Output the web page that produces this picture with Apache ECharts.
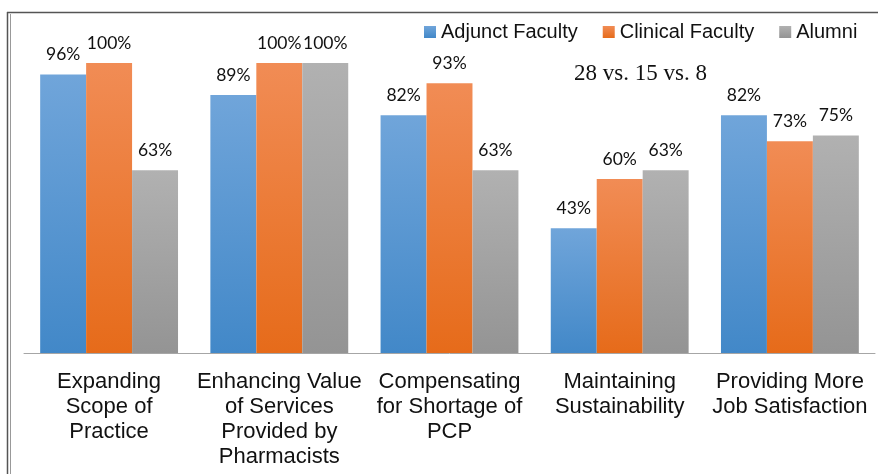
<!DOCTYPE html>
<html>
<head>
<meta charset="utf-8">
<script src="https://cdn.jsdelivr.net/npm/echarts@6/dist/echarts.min.js"></script>
<style>
  html, body { margin: 0; padding: 0; background: #fff; }
  #main { width: 878px; height: 474px; }
</style>
</head>
<body>
<div id="main"></div>
<script>
var categories = [
  'Expanding\nScope of\nPractice',
  'Enhancing Value\nof Services\nProvided by\nPharmacists',
  'Compensating\nfor Shortage of\nPCP',
  'Maintaining\nSustainability',
  'Providing More\nJob Satisfaction'
];
var seriesNames = ['Adjunct Faculty', 'Clinical Faculty', 'Alumni'];
var adjunct = [96, 89, 82, 43, 82];
var clinical = [100, 100, 93, 60, 73];
var alumni = [63, 100, 63, 63, 75];
var subtitle = '28 vs. 15 vs. 8';

var chart = echarts.init(document.getElementById('main'), null, { renderer: 'canvas' });

function grad(top, bottom) {
  return new echarts.graphic.LinearGradient(0, 0, 0, 1, [
    { offset: 0, color: top },
    { offset: 1, color: bottom }
  ]);
}

var colors = [
  grad('#70a5da', '#4288c8'),
  grad('#f18c55', '#e66b1a'),
  grad('#b1b1b1', '#949494')
];
var legendColors = ['#5b9bd5', '#ed7d31', '#a5a5a5'];

function makeSeries(name, data, i) {
  return {
    name: name,
    type: 'bar',
    data: data,
    barGap: '0%',
    barCategoryGap: '19%',
    itemStyle: { color: colors[i] },
    label: {
      show: true,
      position: 'top',
      distance: 11,
      formatter: '{c}%',
      fontFamily: 'Lato, "Open Sans", sans-serif',
      fontSize: 17.5,
      color: '#111'
    }
  };
}

var option = {
  backgroundColor: '#fff',
  animation: false,
  color: legendColors,
  legend: {
    data: seriesNames,
    top: 17,
    left: 419,
    width: 459,
    itemWidth: 12,
    itemHeight: 12,
    itemGap: 25,
    icon: 'rect',
    textStyle: {
      fontFamily: '"Liberation Sans", Arial, sans-serif',
      fontSize: 20,
      color: '#111'
    }
  },
  title: {
    text: subtitle,
    left: 569,
    top: 57,
    textStyle: {
      fontFamily: '"Liberation Serif", serif',
      fontWeight: 'normal',
      fontSize: 23,
      color: '#111'
    }
  },
  grid: { left: 24, right: 3, top: 63, bottom: 121, containLabel: false },
  xAxis: {
    type: 'category',
    data: categories,
    axisLine: { lineStyle: { color: '#a6a6a6', width: 1 } },
    axisTick: { show: false },
    axisLabel: {
      interval: 0,
      margin: 16,
      fontFamily: '"Liberation Sans", Arial, sans-serif',
      fontSize: 22,
      lineHeight: 25,
      color: '#111'
    }
  },
  yAxis: {
    type: 'value',
    min: 0,
    max: 100,
    show: false,
    splitLine: { show: false }
  },
  series: [
    makeSeries(seriesNames[0], adjunct, 0),
    makeSeries(seriesNames[1], clinical, 1),
    makeSeries(seriesNames[2], alumni, 2)
  ],
  graphic: [
    { type: 'line', shape: { x1: 7, y1: 12.5, x2: 878, y2: 12.5 }, style: { stroke: '#555', lineWidth: 1.5 } },
    { type: 'line', shape: { x1: 7.5, y1: 12, x2: 7.5, y2: 474 }, style: { stroke: '#555', lineWidth: 1.5 } },
    { type: 'line', shape: { x1: 10.5, y1: 14, x2: 10.5, y2: 474 }, style: { stroke: '#999', lineWidth: 1 } }
  ]
};

chart.setOption(option);
</script>
</body>
</html>
